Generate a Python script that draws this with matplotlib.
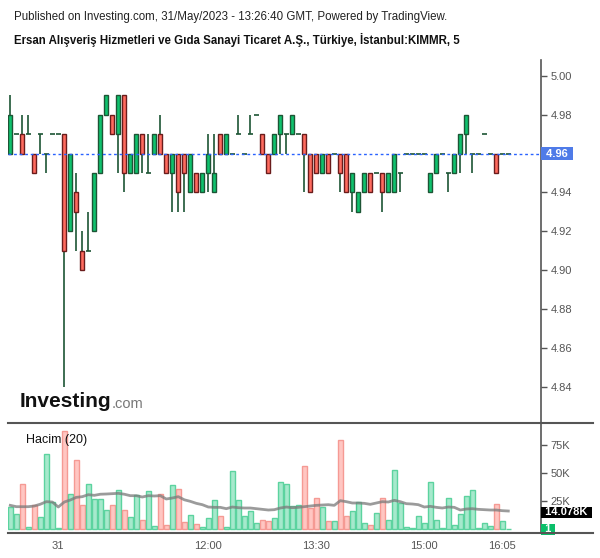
import numpy as np
import matplotlib.pyplot as plt
from matplotlib.lines import Line2D

plt.rcParams['font.family'] = ['Liberation Sans', 'DejaVu Sans']

# 5 minute bars, KIMMR (last bars of 30 May, then 31 May)
opens = [4.96, 4.97, 4.97, 4.97, 4.96, 4.97, 4.96, 4.97, 4.97, 4.97,
         4.92, 4.94, 4.91, 4.91, 4.92, 4.95, 4.98, 4.98, 4.97, 4.99,
         4.95, 4.95, 4.97, 4.95, 4.96, 4.97, 4.96, 4.95, 4.96, 4.96,
         4.94, 4.95, 4.94, 4.95, 4.94, 4.97, 4.96, 4.96, 4.97, 4.96,
         4.97, 4.98, 4.97, 4.96, 4.96, 4.97, 4.97, 4.97, 4.97, 4.97,
         4.96, 4.96, 4.95, 4.96, 4.96, 4.96, 4.96, 4.94, 4.93, 4.94,
         4.95, 4.95, 4.95, 4.94, 4.94, 4.95, 4.96, 4.96, 4.96, 4.96,
         4.94, 4.95, 4.96, 4.95, 4.95, 4.96, 4.97, 4.96, 4.96, 4.97,
         4.96, 4.96, 4.96, 4.96]
highs = [4.99, 4.97, 4.98, 4.98, 4.96, 4.97, 4.96, 4.97, 4.97, 4.97,
         4.96, 4.95, 4.92, 4.93, 4.95, 4.98, 4.99, 4.98, 4.99, 4.99,
         4.96, 4.97, 4.97, 4.97, 4.97, 4.98, 4.96, 4.96, 4.96, 4.96,
         4.96, 4.95, 4.95, 4.97, 4.97, 4.97, 4.97, 4.96, 4.98, 4.96,
         4.98, 4.98, 4.97, 4.96, 4.97, 4.98, 4.97, 4.98, 4.97, 4.97,
         4.96, 4.96, 4.96, 4.96, 4.96, 4.96, 4.96, 4.95, 4.94, 4.95,
         4.95, 4.95, 4.95, 4.95, 4.96, 4.95, 4.96, 4.96, 4.96, 4.96,
         4.95, 4.96, 4.96, 4.95, 4.96, 4.97, 4.98, 4.96, 4.96, 4.97,
         4.96, 4.96, 4.96, 4.96]
lows = [4.96, 4.97, 4.96, 4.97, 4.95, 4.96, 4.95, 4.97, 4.97, 4.84,
        4.92, 4.91, 4.90, 4.91, 4.92, 4.95, 4.98, 4.97, 4.95, 4.94,
        4.95, 4.95, 4.95, 4.95, 4.96, 4.96, 4.95, 4.93, 4.93, 4.93,
        4.94, 4.94, 4.94, 4.94, 4.94, 4.96, 4.96, 4.96, 4.97, 4.96,
        4.97, 4.98, 4.96, 4.95, 4.96, 4.96, 4.96, 4.97, 4.97, 4.94,
        4.94, 4.95, 4.95, 4.95, 4.96, 4.94, 4.94, 4.93, 4.93, 4.94,
        4.94, 4.95, 4.93, 4.94, 4.94, 4.94, 4.96, 4.96, 4.96, 4.96,
        4.94, 4.95, 4.96, 4.94, 4.95, 4.95, 4.96, 4.95, 4.96, 4.97,
        4.96, 4.95, 4.96, 4.96]
closes = [4.98, 4.97, 4.96, 4.97, 4.95, 4.97, 4.96, 4.97, 4.97, 4.91,
          4.96, 4.93, 4.90, 4.91, 4.95, 4.98, 4.99, 4.97, 4.99, 4.95,
          4.96, 4.97, 4.96, 4.95, 4.97, 4.96, 4.95, 4.96, 4.94, 4.95,
          4.96, 4.94, 4.95, 4.96, 4.95, 4.96, 4.97, 4.96, 4.97, 4.96,
          4.97, 4.98, 4.96, 4.95, 4.97, 4.98, 4.97, 4.98, 4.97, 4.96,
          4.94, 4.95, 4.96, 4.95, 4.96, 4.95, 4.94, 4.95, 4.94, 4.95,
          4.94, 4.95, 4.94, 4.95, 4.96, 4.95, 4.96, 4.96, 4.96, 4.96,
          4.95, 4.96, 4.96, 4.95, 4.96, 4.97, 4.98, 4.96, 4.96, 4.97,
          4.96, 4.95, 4.96, 4.96]

# volume in thousands, and its 20-bar average as drawn
volumes = [19.5, 13.2, 40, 1.5, 21, 10.5, 67, 24, 0.3, 87.6,
           31, 62, 21, 40, 27, 27, 17, 21, 35, 17,
           10.5, 30, 8, 34, 2, 31, 3, 39, 36, 5.7,
           12, 4, 1.5, 9.6, 25.5, 11, 1.5, 51.6, 25.5, 11,
           15.6, 4.8, 7.5, 6.6, 9.6, 41.7, 40, 20, 21, 56,
           18.6, 27.3, 19.2, 6.6, 6.6, 80, 11, 15.6, 23.7, 4.8,
           3, 13.8, 27.3, 7.5, 52.5, 22.8, 1.5, 0.6, 11, 4.8,
           41.7, 7.5, 0.6, 27.3, 3, 13, 29, 35, 0.6, 4.8,
           2, 22, 6.6, 0.001]
vol_ma = [21, 19.8, 19.8, 19.8, 20.4, 22, 24.3, 24, 19.5, 24,
          25.8, 28.2, 28.8, 30.6, 30, 31, 31.2, 31.5, 31.8, 31,
          29.7, 29.7, 28.5, 29.7, 29.4, 29.7, 26.7, 27.6, 28.8, 26,
          24.6, 22.8, 21.6, 19.5, 19.2, 19.2, 18, 19.5, 18.9, 18.6,
          18.6, 18, 17.4, 16.8, 17.1, 18.6, 19.5, 18.9, 19.2, 19.8,
          20.4, 21, 21.3, 21.6, 21, 25.2, 24.3, 23.1, 23.1, 22.8,
          21.9, 23.1, 24.3, 24, 25.5, 24.3, 22.5, 22.2, 21.6, 19.5,
          20.1, 19.2, 18.6, 19.5, 19.2, 16.8, 17.7, 18, 17.4, 17.1,
          16.8, 16.8, 16.2, 15.9]

tick_idx = [8, 33, 51, 69, 82]
tick_labels = ['31', '12:00', '13:30', '15:00', '16:05']
price_ticks = [4.84, 4.86, 4.88, 4.90, 4.92, 4.94, 4.96, 4.98, 5.00]
vol_ticks = [25, 50, 75]
last_price = 4.96

o = np.array(opens); h = np.array(highs); l = np.array(lows); c = np.array(closes)
v = np.array(volumes)
x = np.arange(len(o))
up = c >= o

g_fill, g_edge = '#0fc26d', '#1d5535'
r_fill, r_edge = '#ff6b5f', '#6a1c1c'
axis_col = '#555555'

fig = plt.figure(figsize=(6, 5.58), dpi=100)
ax = fig.add_axes([8/600, 1-423/558, 533/600, 363/558])
axv = fig.add_axes([8/600, 1-533/558, 533/600, 110/558], sharex=ax)

# candles
ax.vlines(x, l, h, color=g_edge, lw=1.2, zorder=2)
flat = o == c
ax.hlines(o[flat], x[flat]-0.38, x[flat]+0.38, color=g_edge, lw=1.2, zorder=2)
body = ~flat
ax.bar(x[body], np.abs(c-o)[body], bottom=np.minimum(o, c)[body], width=0.64,
       color=np.where(up[body], g_fill, r_fill),
       edgecolor=np.where(up[body], g_edge, r_edge), linewidth=1, zorder=3)
ax.axhline(last_price, color='#2962ff', ls=(0, (2, 2)), lw=1, zorder=4)

ax.set_xlim(-0.383, 88.45)
ax.set_ylim(4.8214, 5.0081)
ax.set_yticks(price_ticks)
# the last-price box sits over the 4.96 label
ax.set_yticklabels(['' if p == last_price else f'{p:.2f}' for p in price_ticks])
for a in (ax, axv):
    a.yaxis.tick_right()
    for s in ('top', 'left', 'bottom'):
        a.spines[s].set_visible(False)
    a.spines['right'].set_color(axis_col)
    a.spines['right'].set_linewidth(1.2)
    a.tick_params(axis='y', colors=axis_col, labelsize=8, length=4, width=1, pad=3)
ax.tick_params(axis='x', bottom=False, labelbottom=False)

ax.annotate(' 4.96 ', xy=(1, last_price), xycoords=('axes fraction', 'data'),
            xytext=(1.5, 0), textcoords='offset points', ha='left', va='center',
            color='white', fontsize=8, fontweight='bold', annotation_clip=False,
            bbox=dict(boxstyle='square,pad=0.15', fc='#4f7be8', ec='none'), zorder=6)

# volume
axv.bar(x, v, width=0.8, color=np.where(up, '#a6e9cc', '#ffc6c2'),
        edgecolor=np.where(up, '#5cd39f', '#f59a94'), linewidth=1)
axv.plot(x, vol_ma, color='#7a7a7a', lw=2, alpha=0.75)
axv.set_ylim(-3.87, 95.05)
axv.set_yticks(vol_ticks)
axv.set_yticklabels([f'{t}K' for t in vol_ticks])
axv.set_xticks(tick_idx)
axv.set_xticklabels(tick_labels)
axv.tick_params(axis='x', length=0, pad=6, labelsize=8, labelcolor=axis_col)
axv.text(18/533, 1-17/110, 'Hacim (20)', transform=axv.transAxes, fontsize=9,
         color='#111111', va='center')

axv.annotate(' 14.078K ', xy=(1, vol_ma[-1]), xycoords=('axes fraction', 'data'),
             xytext=(0.8, -1), textcoords='offset points', ha='left', va='center',
             color='white', fontsize=8, fontweight='bold', annotation_clip=False,
             bbox=dict(boxstyle='square,pad=0.08', fc='black', ec='none'), zorder=6)
axv.annotate(' 1 ', xy=(1, volumes[-1]), xycoords=('axes fraction', 'data'),
             xytext=(0.8, -0.5), textcoords='offset points', ha='left', va='center',
             color='white', fontsize=8, fontweight='bold', annotation_clip=False,
             bbox=dict(boxstyle='square,pad=0.08', fc='#0bbf6a', ec='none'), zorder=6)

# pane separators run past the price scale
for yy in (423, 533):
    fig.add_artist(Line2D([8/600, 593/600], [1-yy/558, 1-yy/558], color=axis_col, lw=1.5))

fig.text(14/600, 1-17/558, 'Published on Investing.com, 31/May/2023 - 13:26:40 GMT, Powered by TradingView.',
         fontsize=8.3, color='#222222', va='center')
fig.text(14/600, 1-40/558, 'Ersan Alışveriş Hizmetleri ve Gıda Sanayi Ticaret A.Ş., Türkiye, İstanbul:KIMMR, 5',
         fontsize=8.3, fontweight='bold', color='#111111', va='center')

logo = fig.text(20/600, 1-407/558, 'Investing', fontsize=15, fontweight='bold',
                color='#111111', va='baseline')
axv.annotate('.com', xy=(1, 0), xycoords=logo, xytext=(0, 0), textcoords='offset points',
             fontsize=10.5, color='#777777', va='bottom', ha='left', annotation_clip=False)

fig.savefig('out.png', dpi=100, facecolor='white')
